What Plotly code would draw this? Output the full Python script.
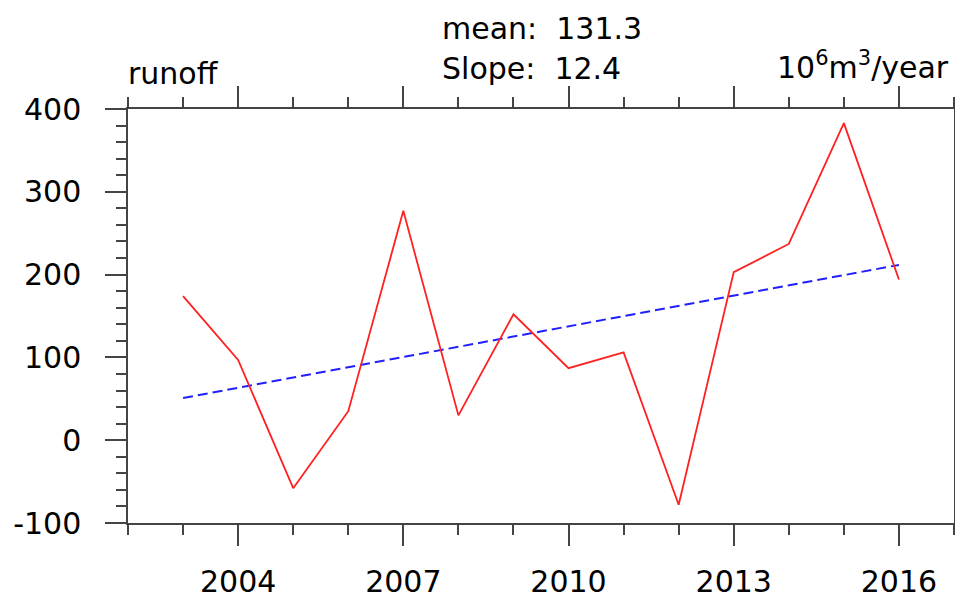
import numpy as np
import plotly.graph_objects as go

years = list(range(2003, 2017))
runoff = [174, 97, -58, 35, 277, 30, 152, 87, 106, -78, 203, 237, 383, 194]
x_ticks = [2004, 2007, 2010, 2013, 2016]
y_ticks = [-100, 0, 100, 200, 300, 400]
mean_text = "mean:  131.3"
slope_text = "Slope:  12.4"
left_title = "runoff"
unit_title = "10<sup>6</sup>m<sup>3</sup>/year"

coef = np.polyfit(years, runoff, 1)
trend = list(np.polyval(coef, years))

FONT = "DejaVu Sans, Liberation Sans, Arial, sans-serif"
FS = 30
AX = "#444444"

fig = go.Figure()
fig.add_trace(go.Scatter(x=years, y=trend, mode="lines",
                         line=dict(color="#2020ff", width=2, dash="10px,5px"),
                         showlegend=False, hoverinfo="skip"))
fig.add_trace(go.Scatter(x=years, y=runoff, mode="lines",
                         line=dict(color="#ff2020", width=1.8),
                         showlegend=False))

# page body has an 8px margin, so the figure is offset by 8px
OFF = 8
W, H = 963 - OFF, 599 - OFF
L, R, T, B = 128 - OFF, 9, 109 - OFF, 76
pw = W - L - R
ph = H - T - B

axis_common = dict(showgrid=False, zeroline=False, showline=True, linecolor=AX,
                   linewidth=1.5, mirror="ticks", ticks="outside", ticklen=21,
                   tickwidth=1.5, tickcolor=AX, automargin=False,
                   tickfont=dict(family=FONT, size=FS, color="black"))

fig.update_xaxes(range=[2002, 2017], tickvals=x_ticks,
                 ticktext=[str(v) for v in x_ticks],
                 minor=dict(dtick=1, tick0=2002, ticks="outside", ticklen=10,
                            tickwidth=1.5, tickcolor=AX, showgrid=False),
                 ticklabelstandoff=10,
                 **axis_common)
fig.update_yaxes(range=[-100, 400], tickvals=y_ticks,
                 ticktext=[str(v) for v in y_ticks],
                 minor=dict(dtick=20, tick0=0, ticks="outside", ticklen=10,
                            tickwidth=1.5, tickcolor=AX, showgrid=False),
                 ticklabelstandoff=18,
                 **axis_common)

def px(xpix):
    return (xpix - OFF - L) / pw

def py(ypix):
    return (H - B - (ypix - OFF)) / ph

annots = [
    dict(text=left_title, x=px(126), y=py(73), xanchor="left", yanchor="middle"),
    dict(text=unit_title, x=px(951), y=py(66), xanchor="right", yanchor="middle"),
    dict(text=mean_text, x=px(440), y=py(28), xanchor="left", yanchor="middle"),
    dict(text=slope_text, x=px(440), y=py(68), xanchor="left", yanchor="middle"),
]
for a in annots:
    fig.add_annotation(xref="paper", yref="paper", showarrow=False,
                       font=dict(family=FONT, size=FS, color="black"), **a)

fig.update_layout(width=W, height=H, margin=dict(l=L, r=R, t=T, b=B),
                  plot_bgcolor="white", paper_bgcolor="white")

fig.write_html("out.html")
